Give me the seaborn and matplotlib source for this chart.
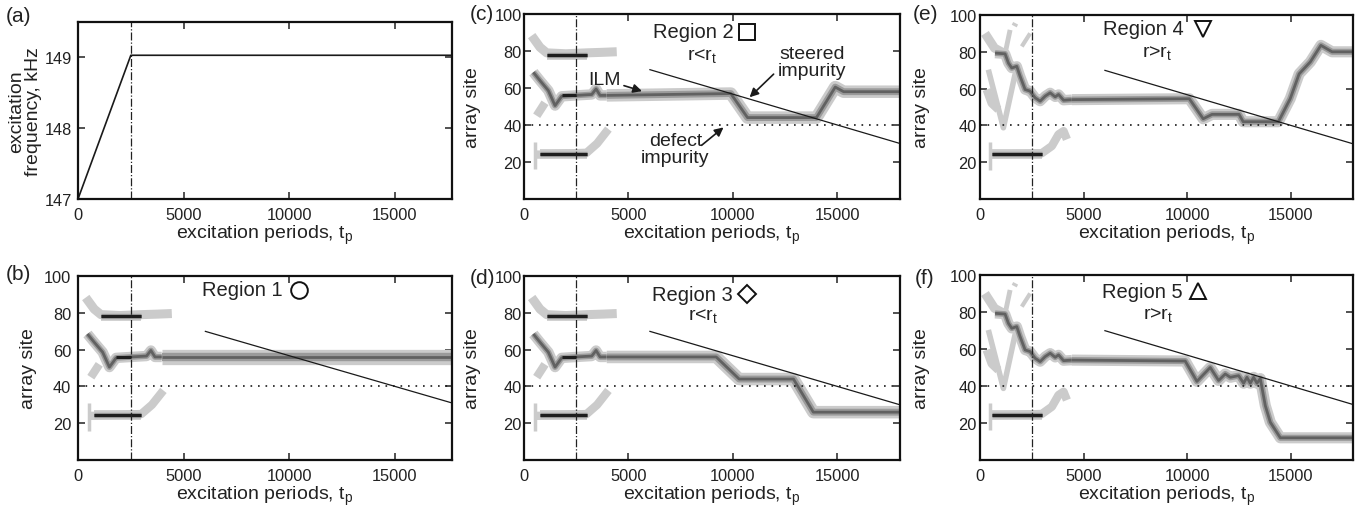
import numpy as np
import pandas as pd
import matplotlib
matplotlib.use("Agg")
import matplotlib.pyplot as plt
import seaborn as sns

# ---- data ----
# (a) excitation frequency ramp
freq_t = [0, 2500, 17700]
freq_khz = [147.0, 149.03, 149.03]

# steered impurity and defect positions
impurity_t = [6000, 18000]
impurity_site = [70, 30]
defect_site = 40
ramp_end = 2500

# shared early tracks, regions 1-3
upper_t = [1086, 1600, 2200, 3000]
upper_site = [78, 78, 78, 78]
upper_light_t = [367, 767, 1086, 2000, 3000, 3800, 4440]
upper_light_site = [88.3, 82, 79, 78.5, 79, 79.3, 79.6]
mid_t = [447, 767, 1166, 1486, 1805, 2500, 3243, 3450, 3642, 3962]
mid_site = [68.5, 64, 58.6, 50.5, 55.5, 56, 56.5, 59.5, 56, 56]
blob_t = [607, 1006]
blob_site = [45, 52]
lower_t = [767, 1500, 2500, 2998]
lower_site = [24.3, 24.3, 24.3, 24.3]
lower_light_t = [530, 767, 2998, 3500, 4041]
lower_light_site = [24, 24, 25, 30, 37.8]
spray_t = [527, 527]
spray_site = [16, 31]

# late ILM tracks, regions 1-3
late_b_t = [3962, 17700]
late_b_site = [56, 56]
late_c_t = [3962, 9900, 10700, 14000, 14900, 15300, 18000]
late_c_site = [56, 57, 44, 44, 60.5, 58, 58]
late_d_t = [3962, 9200, 10300, 12900, 13850, 18000]
late_d_site = [56, 56, 44, 44, 26, 26]

# shared early tracks, regions 4-5
ef_main_t = [726, 1210, 1371, 1532, 1774, 1935, 2177, 2419, 2661, 2903,
             3145, 3387, 3629, 3790, 4032, 4435]
ef_main_site = [79.3, 78.9, 73.9, 71.2, 72.1, 66.7, 59.5, 58.6, 55, 53.2,
                55.9, 57.7, 55.5, 56.8, 53.7, 54]
ef_upper_light_t = [240, 700, 1200]
ef_upper_light_site = [90, 82, 79]
ef_arm_t = [1210, 1452]
ef_arm_site = [79, 91.9]
ef_v_t = [403, 1129, 1774]
ef_v_site = [70.3, 38.7, 72]
ef_side_t = [322, 565, 887]
ef_side_site = [59.5, 52, 48.6]
ef_blob_t = [1650, 1720]
ef_blob_site = [94, 95.5]
ef_dash_t = [2016, 2419]
ef_dash_site = [82.9, 90]
ef_lower_t = [565, 1500, 2500, 2984]
ef_lower_site = [24.3, 24.3, 24.3, 24.3]
ef_lower_light_t = [480, 2984, 3468, 3790, 4032, 4194]
ef_lower_light_site = [24, 24.9, 28.8, 35.1, 36.9, 32.4]

# late ILM tracks, regions 4-5
late_e_t = [4435, 10100, 10770, 11200, 12500, 12700, 14400, 14970, 15400,
            15940, 16450, 16990, 18000]
late_e_site = [54, 54.5, 43.6, 46, 46, 42, 42, 54.5, 68, 74.5, 83.5, 80, 80]
late_f_t = [4435, 9903, 10467, 11111, 11514, 11836, 12077, 12480, 12721,
            12882, 13043, 13204, 13365, 13526, 13768, 14010, 14493, 18000]
late_f_site = [54, 53.5, 42.5, 50, 43, 46.5, 44.7, 45.6, 41.5, 44.7, 41.5,
               44.7, 41.5, 44, 29.4, 20.4, 12, 12]

xticks = [0, 5000, 10000, 15000]
site_ticks = [20, 40, 60, 80, 100]

# ---- style ----
sns.set_theme(style="ticks")
plt.rcParams["font.family"] = ["Liberation Sans", "DejaVu Sans"]
plt.rcParams["mathtext.fontset"] = "custom"
plt.rcParams["mathtext.rm"] = "Liberation Sans"
plt.rcParams["mathtext.it"] = "Liberation Sans"

LIGHT, MID, DARK, CORE = "#cbcbcb", "#9a9a9a", "#616161", "#1e1e1e"
TXT = "#222222"


def line(ax, t, s, color, lw, cap="butt", **kw):
    sns.lineplot(x=t, y=s, ax=ax, color=color, lw=lw, sort=False,
                 estimator=None, solid_capstyle=cap, solid_joinstyle="round",
                 **kw)


def track(ax, t, s, wide=9, core=False):
    line(ax, t, s, LIGHT, wide)
    line(ax, t, s, MID, wide * 0.55)
    line(ax, t, s, DARK, 2.0)
    if core:
        line(ax, t, s, CORE, 2.2)


def style_axes(ax, xmax, pad, site=True):
    ax.set_xlim(0, xmax)
    ax.set_xticks(xticks)
    ax.tick_params(direction="in", top=True, right=True, length=5, width=1.1,
                   labelsize=11.8, colors=TXT)
    ax.tick_params(axis="x", pad=6)
    ax.tick_params(axis="y", pad=pad)
    for sp in ax.spines.values():
        sp.set_linewidth(1.6)
        sp.set_color("#111111")
        sp.set_visible(True)
    ax.set_xlabel("excitation periods, t$_\\mathrm{p}$", fontsize=14,
                  color=TXT, labelpad=0)
    if site:
        ax.set_ylim(0, 100)
        ax.set_yticks(site_ticks)
        ax.set_ylabel("array site", fontsize=14, color=TXT)
        ax.axhline(defect_site, color="k", lw=1.2, ls=(0, (1, 3.5)))
        line(ax, impurity_t, impurity_site, "k", 0.9)
    ax.axvline(ramp_end, color=TXT, lw=0.9, ls="-.")
    ax.set_facecolor("white")


def early_123(ax):
    line(ax, spray_t, spray_site, LIGHT, 2.5)
    line(ax, upper_light_t, upper_light_site, LIGHT, 6.5)
    line(ax, blob_t, blob_site, LIGHT, 6)
    line(ax, lower_light_t, lower_light_site, LIGHT, 6)
    track(ax, upper_t, upper_site, wide=7, core=True)
    track(ax, lower_t, lower_site, wide=7, core=True)
    track(ax, mid_t, mid_site, wide=7.5)
    line(ax, [1800, 2500], [56, 56], CORE, 2.2)


def early_45(ax):
    line(ax, [480, 480], spray_site, LIGHT, 2.5)
    line(ax, ef_upper_light_t, ef_upper_light_site, LIGHT, 6.5)
    line(ax, ef_arm_t, ef_arm_site, LIGHT, 3.5)
    line(ax, ef_v_t, ef_v_site, LIGHT, 4)
    line(ax, ef_side_t, ef_side_site, LIGHT, 6)
    line(ax, ef_blob_t, ef_blob_site, LIGHT, 4)
    line(ax, ef_dash_t, ef_dash_site, LIGHT, 3)
    line(ax, ef_lower_light_t, ef_lower_light_site, LIGHT, 6)
    track(ax, ef_lower_t, ef_lower_site, wide=7, core=True)
    track(ax, ef_main_t, ef_main_site, wide=7.5)


def region_label(ax, x, y, text, sub, marker, mx, my, ms):
    ax.text(x, y, text, transform=ax.transAxes, ha="center", va="center",
            fontsize=14.5, color=TXT)
    ax.plot([mx], [my], marker=marker, ms=ms, mfc="none", mec="#111111",
            mew=1.4, transform=ax.transAxes, clip_on=False)
    if sub:
        ax.text(sub[0], sub[1], sub[2], transform=ax.transAxes, ha="center",
                va="center", fontsize=14, color=TXT)


W, H = 1358, 506
fig = plt.figure(figsize=(W / 100, H / 100), dpi=100)
fig.patch.set_facecolor("white")


def axes_px(l, t, r, b):
    return fig.add_axes([l / W, 1 - b / H, (r - l) / W, (b - t) / H])


ax_a = axes_px(78, 23, 452, 200)
ax_b = axes_px(78, 277, 452, 461)
ax_c = axes_px(524, 15, 900, 200)
ax_d = axes_px(524, 277, 900, 461)
ax_e = axes_px(980, 16, 1353, 200)
ax_f = axes_px(980, 276, 1353, 461)

# (a)
line(ax_a, freq_t, freq_khz, "k", 1.2)
style_axes(ax_a, 17700, pad=4, site=False)
ax_a.set_ylim(147, 149.5)
ax_a.set_yticks([147, 148, 149])
ax_a.set_ylabel("excitation\nfrequency, kHz", fontsize=14, color=TXT,
                linespacing=0.95)
ax_a.yaxis.set_label_coords(-0.097, 0.5)

# (b)
early_123(ax_b)
track(ax_b, late_b_t, late_b_site, wide=11)
style_axes(ax_b, 17700, pad=5)
region_label(ax_b, 0.44, 0.925, "Region 1", None, "o", 0.59, 0.925, 12)

# (c)
early_123(ax_c)
track(ax_c, late_c_t, late_c_site, wide=9)
style_axes(ax_c, 18000, pad=1.5)
region_label(ax_c, 0.45, 0.905, "Region 2", (0.475, 0.78, "r<r$_\\mathrm{t}$"),
             "s", 0.593, 0.905, 12)
arrow = dict(arrowstyle="-|>", color="k", lw=1.2, mutation_scale=13,
             shrinkA=0, shrinkB=0)
ax_c.annotate("ILM", xy=(5650, 58.3), xytext=(3850, 64.5), fontsize=14,
              ha="center", va="center", color=TXT, arrowprops=arrow)
ax_c.annotate("", xy=(10800, 55), xytext=(11950, 67.5), arrowprops=arrow)
ax_c.text(13800, 74, "steered\nimpurity", fontsize=14, ha="center",
          va="center", color=TXT, linespacing=0.95)
ax_c.annotate("", xy=(9550, 38.7), xytext=(8500, 29), arrowprops=arrow)
ax_c.text(7250, 27, "defect\nimpurity", fontsize=14, ha="center",
          va="center", color=TXT, linespacing=0.95)

# (d)
early_123(ax_d)
track(ax_d, late_d_t, late_d_site, wide=9)
style_axes(ax_d, 18000, pad=1.5)
region_label(ax_d, 0.447, 0.90, "Region 3", (0.476, 0.79, "r<r$_\\mathrm{t}$"),
             "D", 0.593, 0.90, 9)

# (e)
early_45(ax_e)
track(ax_e, late_e_t, late_e_site, wide=8)
style_axes(ax_e, 18000, pad=2.5)
region_label(ax_e, 0.437, 0.925, "Region 4", (0.474, 0.80, "r>r$_\\mathrm{t}$"),
             "v", 0.598, 0.925, 12)

# (f)
early_45(ax_f)
track(ax_f, late_f_t, late_f_site, wide=8)
style_axes(ax_f, 18000, pad=2.5)
region_label(ax_f, 0.435, 0.91, "Region 5", (0.477, 0.79, "r>r$_\\mathrm{t}$"),
             "^", 0.585, 0.915, 12)

for ax, xl in [(ax_b, -0.11), (ax_c, -0.114), (ax_d, -0.114),
               (ax_e, -0.134), (ax_f, -0.134)]:
    ax.yaxis.set_label_coords(xl, 0.5)

# panel letters
for lab, x, y in [("(a)", 6, 17), ("(b)", 6, 275), ("(c)", 470, 15),
                  ("(d)", 470, 278), ("(e)", 913, 15), ("(f)", 915, 278)]:
    fig.text(x / W, 1 - y / H, lab, fontsize=15, ha="left", va="center",
             color=TXT)

fig.savefig("out.png", dpi=100, facecolor="white")
